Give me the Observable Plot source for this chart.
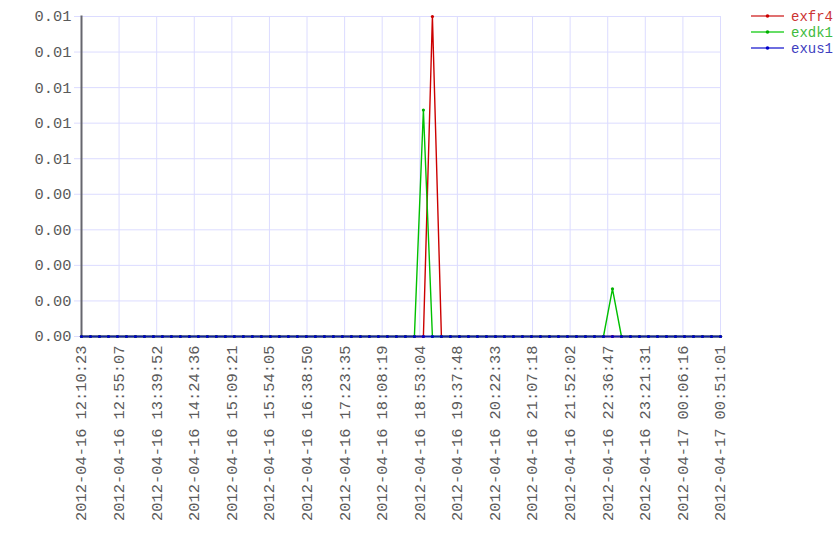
<!DOCTYPE html>
<html>
<head>
<meta charset="utf-8">
<script src="https://cdn.jsdelivr.net/npm/d3@7"></script>
<script src="https://cdn.jsdelivr.net/npm/@observablehq/plot@0.6"></script>
<style>
  html, body { margin: 0; padding: 0; background: #fff; }
  #wrap { position: relative; width: 840px; height: 560px; font-family: "Liberation Mono", "DejaVu Sans Mono", monospace; }
  #legend { position: absolute; left: 0; top: 0; }
</style>
</head>
<body>
<div id="wrap"></div>
<script>
// ---- data ----
const times = [
  "2012-04-16 12:10:23","2012-04-16 12:21:05","2012-04-16 12:31:47","2012-04-16 12:42:29",
  "2012-04-16 12:53:11","2012-04-16 13:03:53","2012-04-16 13:14:35","2012-04-16 13:25:17",
  "2012-04-16 13:35:59","2012-04-16 13:46:41","2012-04-16 13:57:23","2012-04-16 14:08:05",
  "2012-04-16 14:18:47","2012-04-16 14:29:29","2012-04-16 14:40:11","2012-04-16 14:50:53",
  "2012-04-16 15:01:36","2012-04-16 15:12:19","2012-04-16 15:23:02","2012-04-16 15:33:45",
  "2012-04-16 15:44:28","2012-04-16 15:55:11","2012-04-16 16:05:54","2012-04-16 16:16:37",
  "2012-04-16 16:27:20","2012-04-16 16:38:03","2012-04-16 16:48:46","2012-04-16 16:59:29",
  "2012-04-16 17:10:12","2012-04-16 17:20:55","2012-04-16 17:31:38","2012-04-16 17:42:21",
  "2012-04-16 17:53:04","2012-04-16 18:03:47","2012-04-16 18:14:30","2012-04-16 18:25:13",
  "2012-04-16 18:35:56","2012-04-16 18:46:39","2012-04-16 18:57:22","2012-04-16 19:08:05",
  "2012-04-16 19:18:48","2012-04-16 19:29:31","2012-04-16 19:40:14","2012-04-16 19:50:57",
  "2012-04-16 20:01:40","2012-04-16 20:12:23","2012-04-16 20:23:06","2012-04-16 20:33:49",
  "2012-04-16 20:44:32","2012-04-16 20:55:15","2012-04-16 21:05:58","2012-04-16 21:16:41",
  "2012-04-16 21:27:24","2012-04-16 21:38:07","2012-04-16 21:48:50","2012-04-16 21:59:33",
  "2012-04-16 22:10:16","2012-04-16 22:20:59","2012-04-16 22:31:42","2012-04-16 22:42:25",
  "2012-04-16 22:53:08","2012-04-16 23:03:51","2012-04-16 23:14:34","2012-04-16 23:25:17",
  "2012-04-16 23:36:00","2012-04-16 23:46:43","2012-04-16 23:57:26","2012-04-17 00:08:09",
  "2012-04-17 00:18:52","2012-04-17 00:29:35","2012-04-17 00:40:18","2012-04-17 00:51:01"
];
const seriesNames = ["exfr4", "exdk1", "exus1"];
const exfr4 = [
  0,0,0,0,0,0,0,0,0,0,0,0,0,0,0,0,0,0,0,0,0,0,0,0,
  0,0,0,0,0,0,0,0,0,0,0,0,0,0,0,0.009,0,0,0,0,0,0,0,0,
  0,0,0,0,0,0,0,0,0,0,0,0,0,0,0,0,0,0,0,0,0,0,0,0
];
const exdk1 = [
  0,0,0,0,0,0,0,0,0,0,0,0,0,0,0,0,0,0,0,0,0,0,0,0,
  0,0,0,0,0,0,0,0,0,0,0,0,0,0,0.00637,0,0,0,0,0,0,0,0,0,
  0,0,0,0,0,0,0,0,0,0,0,0.00134,0,0,0,0,0,0,0,0,0,0,0,0
];
const exus1 = [
  0,0,0,0,0,0,0,0,0,0,0,0,0,0,0,0,0,0,0,0,0,0,0,0,
  0,0,0,0,0,0,0,0,0,0,0,0,0,0,0,0,0,0,0,0,0,0,0,0,
  0,0,0,0,0,0,0,0,0,0,0,0,0,0,0,0,0,0,0,0,0,0,0,0
];
const xTickLabels = [
  "2012-04-16 12:10:23","2012-04-16 12:55:07","2012-04-16 13:39:52","2012-04-16 14:24:36",
  "2012-04-16 15:09:21","2012-04-16 15:54:05","2012-04-16 16:38:50","2012-04-16 17:23:35",
  "2012-04-16 18:08:19","2012-04-16 18:53:04","2012-04-16 19:37:48","2012-04-16 20:22:33",
  "2012-04-16 21:07:18","2012-04-16 21:52:02","2012-04-16 22:36:47","2012-04-16 23:21:31",
  "2012-04-17 00:06:16","2012-04-17 00:51:01"
];
const yTicks = [0, 0.001, 0.002, 0.003, 0.004, 0.005, 0.006, 0.007, 0.008, 0.009];
const lineColors = ["#cc0000", "#00c000", "#1020a8"];
const dotColors = ["#cc0000", "#00b000", "#0000cc"];
const legendLine = ["#e07070", "#66dd66", "#6e6ee0"];
const textColors = ["#cc3333", "#40bb40", "#4040c0"];

// ---- build ----
const parse = d3.utcParse("%Y-%m-%d %H:%M:%S");
const fmt = d3.utcFormat("%Y-%m-%d %H:%M:%S");
const allSeries = [exfr4, exdk1, exus1];
const rows = [];
seriesNames.forEach((name, s) => {
  allSeries[s].forEach((v, i) => rows.push({series: name, s, t: parse(times[i]), v}));
});
const xTicks = xTickLabels.map(parse);

const marks = [
  Plot.gridX({ticks: xTicks, stroke: "#dcdcff", strokeOpacity: 1, strokeWidth: 1}),
  Plot.gridY({ticks: yTicks, stroke: "#dcdcff", strokeOpacity: 1, strokeWidth: 1}),
  Plot.axisY({ticks: yTicks, tickSize: 7, tickPadding: 3, stroke: "#dcdcff", strokeOpacity: 1,
              fill: "#5a5a5a", tickFormat: d3.format(".2f"), label: null}),
  Plot.axisX({ticks: xTicks, tickSize: 0, tickPadding: 9, tickRotate: -90, fill: "#5a5a5a",
              tickFormat: fmt, label: null}),
  Plot.frame({anchor: "left", stroke: "#66666e", strokeWidth: 2})
];
seriesNames.forEach((name, s) => {
  const d = rows.filter(r => r.s === s);
  marks.push(Plot.line(d, {x: "t", y: "v", stroke: lineColors[s], strokeWidth: s === 2 ? 1.8 : 1.4}));
});
seriesNames.forEach((name, s) => {
  const d = rows.filter(r => r.s === s);
  marks.push(Plot.dot(d, {x: "t", y: "v", fill: dotColors[s], r: 1.6, stroke: "none"}));
});

const chart = Plot.plot({
  width: 840,
  height: 560,
  marginLeft: 81,
  marginRight: 120,
  marginTop: 16,
  marginBottom: 224,
  style: {fontFamily: '"Liberation Mono", monospace', fontSize: "15.4px", background: "#fff", overflow: "visible"},
  x: {type: "utc", domain: [xTicks[0], xTicks[xTicks.length - 1]]},
  y: {domain: [0, 0.009]},
  marks
});
document.getElementById("wrap").appendChild(chart);

// ---- legend ----
const ns = "http://www.w3.org/2000/svg";
const leg = document.createElementNS(ns, "svg");
leg.setAttribute("id", "legend");
leg.setAttribute("width", 840);
leg.setAttribute("height", 70);
leg.style.position = "absolute";
leg.style.left = "0px";
leg.style.top = "0px";
seriesNames.forEach((name, s) => {
  const y = 16 + s * 16;
  const line = document.createElementNS(ns, "line");
  line.setAttribute("x1", 751); line.setAttribute("x2", 784);
  line.setAttribute("y1", y); line.setAttribute("y2", y);
  line.setAttribute("stroke", legendLine[s]); line.setAttribute("stroke-width", 2);
  leg.appendChild(line);
  const c = document.createElementNS(ns, "circle");
  c.setAttribute("cx", 767.5); c.setAttribute("cy", y); c.setAttribute("r", 1.8);
  c.setAttribute("fill", dotColors[s]);
  leg.appendChild(c);
  const t = document.createElementNS(ns, "text");
  t.setAttribute("x", 791); t.setAttribute("y", y);
  t.setAttribute("dy", "0.35em");
  t.setAttribute("fill", textColors[s]);
  t.setAttribute("font-family", '"Liberation Mono", monospace');
  t.setAttribute("font-size", "14px");
  t.textContent = name;
  leg.appendChild(t);
});
document.getElementById("wrap").appendChild(leg);
</script>
</body>
</html>
